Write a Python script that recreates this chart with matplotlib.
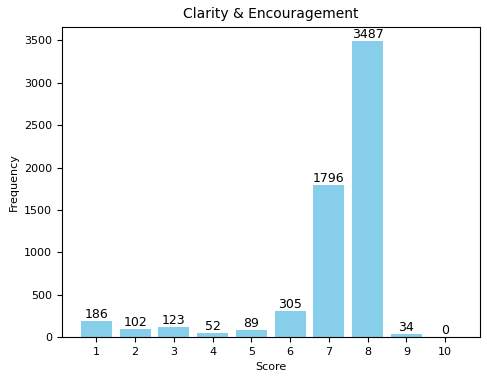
import matplotlib
matplotlib.use("Agg")
import matplotlib.pyplot as plt

scores = [1, 2, 3, 4, 5, 6, 7, 8, 9, 10]
counts = [186, 102, 123, 52, 89, 305, 1796, 3487, 34, 0]

fig, ax = plt.subplots(figsize=(4.87, 3.81), dpi=100)
bars = ax.bar(scores, counts, color="skyblue", width=0.8)
for b, v in zip(bars, counts):
    ax.text(b.get_x() + b.get_width() / 2, v, str(v), ha="center", va="bottom", fontsize=9)

ax.set_xticks(scores)
ax.set_title("Clarity & Encouragement", fontsize=10)
ax.set_xlabel("Score", fontsize=8)
ax.set_ylabel("Frequency", fontsize=8)
ax.tick_params(labelsize=8)

fig.subplots_adjust(left=0.127, right=0.985, top=0.93, bottom=0.115)
fig.savefig("out.png", dpi=100)
